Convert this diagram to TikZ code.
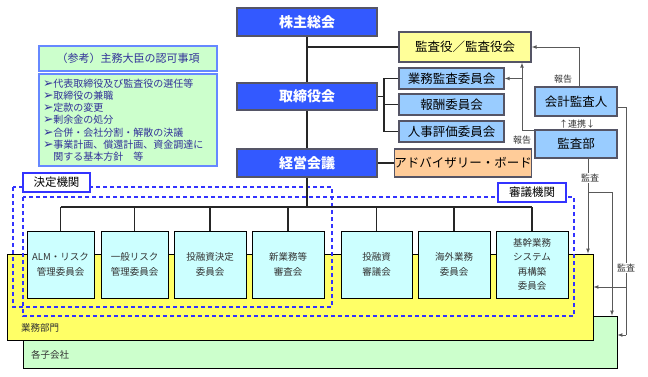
\documentclass[tikz,border=0pt]{standalone}
\usepackage{fontspec}
\setmainfont{Noto Sans CJK JP}
\newfontfamily\dejavu{DejaVu Sans}
\usetikzlibrary{calc}
\definecolor{kblue}{HTML}{3359FF}
\definecolor{kgray}{HTML}{555566}
\definecolor{kpale}{HTML}{FFFF99}
\definecolor{kyellow}{HTML}{FFFF66}
\definecolor{klblue}{HTML}{99CCFF}
\definecolor{kcyan}{HTML}{CCFFFF}
\definecolor{kgreen}{HTML}{CCFFCC}
\definecolor{korange}{HTML}{FFCC99}
\definecolor{kdash}{HTML}{3333FF}
\definecolor{kref}{HTML}{6688FF}
\definecolor{kreftext}{HTML}{333399}
\newcommand\refbullet{{\dejavu\fontsize{12.5}{10}\selectfont ➢}}
\tikzset{
  mainbox/.style={draw=kgray, line width=1.6pt, fill=kblue, text=white,
    font=\fontsize{14}{16}\selectfont\bfseries, minimum width=140pt, minimum height=28pt, inner sep=0pt},
  subbox/.style={draw=kgray, line width=1.4pt, font=\fontsize{12.5}{14}\selectfont, inner sep=0pt},
  cmte/.style={draw=black, line width=0.8pt, fill=kcyan, minimum height=67pt, align=center,
    font=\fontsize{9.5}{14.5}\selectfont, text=black!80, inner sep=0pt},
  org/.style={line width=1.1pt, black!85},
  audit/.style={line width=0.7pt, gray!70!black},
  lbl/.style={font=\fontsize{9}{10}\selectfont, inner sep=1pt, text=black!80},
  tagbox/.style={draw=kdash, line width=1.2pt, fill=white, font=\fontsize{11.5}{12}\selectfont,
    minimum width=67pt, minimum height=19pt, inner sep=0pt},
  kgroup/.style={draw=kdash, line width=1.2pt, dash pattern=on 4pt off 3pt},
  refbox/.style={draw=kref, line width=1.2pt, fill=kgreen, text=kreftext, inner sep=0pt, minimum width=178pt},
}
\begin{document}
\begin{tikzpicture}[x=1pt,y=-1pt,>=latex]
\useasboundingbox (0,0) rectangle (648,377);

\node[draw, line width=0.9pt, fill=kgreen, minimum width=594pt, minimum height=52pt] (kogaisha) at (320,342) {};
\node[draw, line width=0.9pt, fill=kyellow, minimum width=586pt, minimum height=86pt] (bumon) at (300,297) {};
\node[lbl, font=\fontsize{9.5}{10}\selectfont, anchor=west] (bumontxt) at (20,328) {業務部門};
\node[lbl, font=\fontsize{9.5}{10}\selectfont, anchor=west] (kogaishatxt) at (30,355) {各子会社};

\draw[kgroup] (13,187) rectangle (332,307);
\draw[kgroup] (23,197) rectangle (574,316);
\node[tagbox] (kettei) at (56.5,182.5) {決定機関};
\node[tagbox, minimum width=68pt] (shingi) at (532,192.5) {審議機関};

\node[cmte, minimum width=67pt] (alm) at (60.5,264.5) {ALM・リスク\\管理委員会};
\node[cmte, minimum width=67pt] (ippan) at (134.5,264.5) {一般リスク\\管理委員会};
\node[cmte, minimum width=72pt] (toyushi) at (210,264.5) {投融資決定\\委員会};
\node[cmte, minimum width=72pt] (shingyomu) at (288,264.5) {新業務等\\審査会};
\node[cmte, minimum width=71pt] (shingikai) at (376.5,264.5) {投融資\\審議会};
\node[cmte, minimum width=72pt] (kaigai) at (454,264.5) {海外業務\\委員会};
\node[cmte, minimum width=72pt] (kikan) at (532,264.5) {基幹業務\\システム\\再構築\\委員会};

\node[mainbox] (kabu) at (307,22) {株主総会};
\node[mainbox, minimum height=27pt] (tori) at (307,96.5) {取締役会};
\node[mainbox] (keiei) at (307,163) {経営会議};

\node[subbox, fill=kpale, minimum width=132pt, minimum height=30pt] (kansayaku) at (465,47) {監査役／監査役会};
\node[subbox, fill=klblue, minimum width=105pt, minimum height=21pt] (gyokansa) at (451.5,78.5) {業務監査委員会};
\node[subbox, fill=klblue, minimum width=105pt, minimum height=21pt] (hoshu) at (451.5,104.5) {報酬委員会};
\node[subbox, fill=klblue, minimum width=105pt, minimum height=21pt] (jinji) at (451.5,131.5) {人事評価委員会};
\node[subbox, fill=korange, minimum width=132pt, minimum height=28pt] (advisory) at (463,163) {アドバイザリー・ボード};
\node[subbox, fill=klblue, minimum width=82pt, minimum height=29pt] (kaikei) at (576,101.5) {会計監査人};
\node[subbox, fill=klblue, minimum width=82pt, minimum height=28pt] (kansabu) at (576,144) {監査部};

\node[refbox, minimum height=25pt, font=\fontsize{11}{12}\selectfont] (reftitle) at (128,58.5) {（参考）主務大臣の認可事項};
\node[refbox, minimum height=92pt, text width=170pt, align=left, font=\fontsize{10}{12.2}\selectfont] (reflist) at (128,120)
  {\refbullet 代表取締役及び監査役の選任等\\
   \refbullet 取締役の兼職\\
   \refbullet 定款の変更\\
   \refbullet 剰余金の処分\\
   \refbullet 合併・会社分割・解散の決議\\
   \refbullet 事業計画、償還計画、資金調達に\\
   \phantom{\refbullet}関する基本方針\quad 等};

\coordinate (bus) at (0,207);
\coordinate (br) at (384,0);
\draw[org] (kabu.south) -- (tori.north);
\draw[org] (tori.south) -- (keiei.north);
\draw[org] (kabu.south |- kansayaku.west) -- (kansayaku.west);
\draw[org] (tori.east) -- (br |- tori.east);
\draw[org] (gyokansa.west) -| (br |- jinji.west) -- (jinji.west);
\draw[org] (br |- hoshu.west) -- (hoshu.west);
\draw[org] (keiei.east) -- (advisory.west);
\draw[org] (keiei.south) -- (keiei.south |- bus);
\draw[org] (alm.north |- bus) -- (kikan.north |- bus);
\foreach \n in {alm,ippan,toyushi,shingyomu,shingikai,kaigai,kikan}
  \draw[org] (\n.north |- bus) -- (\n.north);

\coordinate (hk) at (522,0);
\coordinate (kk0) at (579,0);
\coordinate (kk1) at (626,107);
\coordinate (kk2) at (626,335);
\coordinate (kk3) at (626,287);
\coordinate (ks1) at (588,158);
\coordinate (ks2) at (612,192);
\draw[audit,->] (kaikei.north -| kk0) |- (kansayaku.east);
\draw[audit,->] ([yshift=-1pt]kansabu.north west) -| (hk |- kansayaku.south);
\draw[audit,->] (hk |- gyokansa.east) -- (gyokansa.east);
\draw[audit] (kaikei.east |- kk1) -- (kk1) -- (kk2);
\draw[audit,->] (kk2) -- (kogaisha.east |- kk2);
\draw[audit,->] (kk3) -- (bumon.east |- kk3);
\draw[audit,->] (ks1) -- (ks1 |- bumon.north);
\draw[audit,->] (ks1 |- ks2) -- (ks2) -- (ks2 |- kogaisha.north);

\node[lbl] (hokoku1) at (563,79) {報告};
\node[lbl] (hokoku2) at (522,140) {報告};
\node[lbl] (renkei) at (577,124) {↑連携↓};
\node[lbl, fill=white] (kansa1) at (590,178) {監査};
\node[lbl, fill=white] (kansa2) at (626,268) {監査};

\end{tikzpicture}
\end{document}
